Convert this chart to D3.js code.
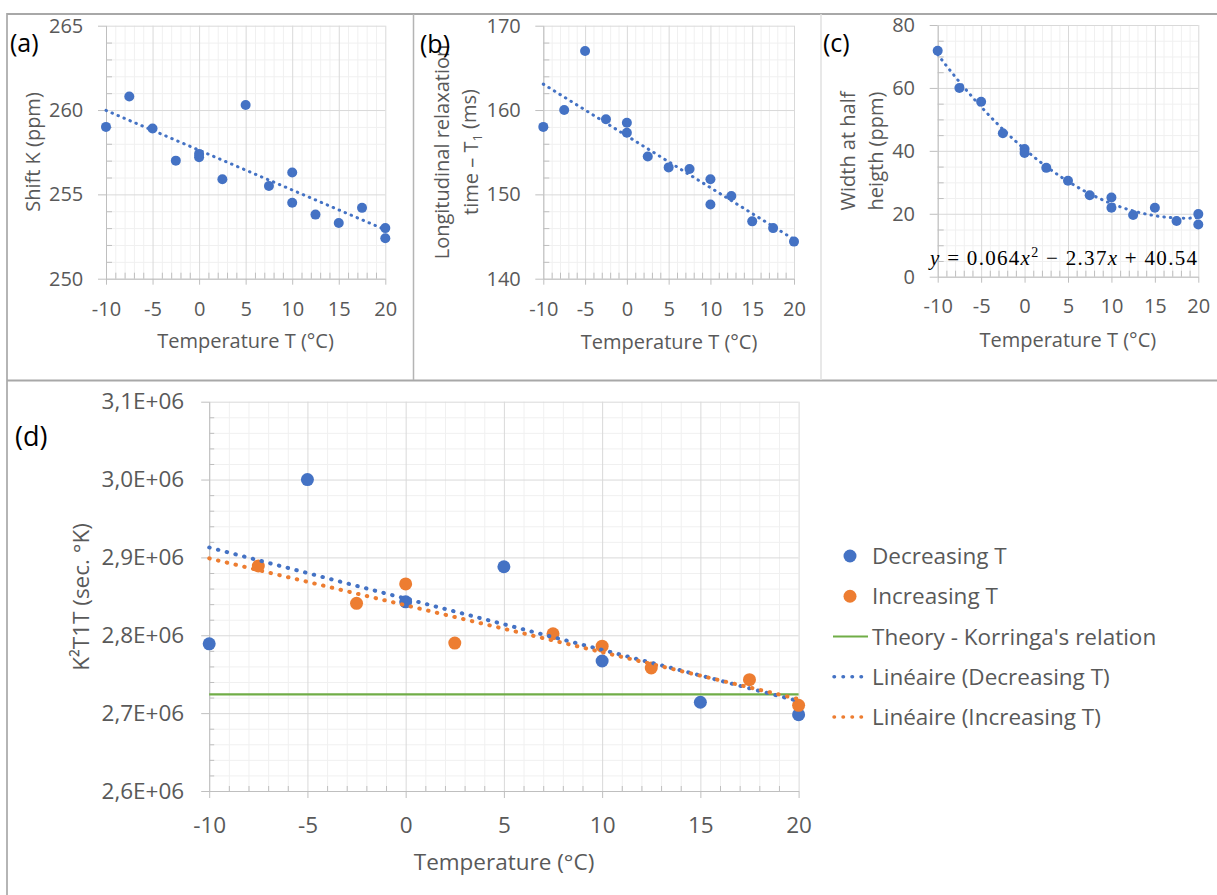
<!DOCTYPE html>
<html><head><meta charset="utf-8">
<script src="https://cdn.jsdelivr.net/npm/d3@7"></script>
<style>body{margin:0;background:#fff}svg{display:block}</style>
</head><body>
<svg id="c" width="1217" height="895"></svg>
<script>
// ---------- data ----------
const tempsA = [-10,-7.5,-5,-2.5,0,0,2.5,5,7.5,10,10,12.5,15,17.5,20,20];
const shiftK = [259.0,260.8,258.9,257.0,257.2,257.4,255.9,260.3,255.5,256.3,254.5,253.8,253.3,254.2,253.0,252.4];
const tempsB = [-10,-7.5,-5,-2.5,0,0,2.5,5,7.5,10,10,12.5,15,17.5,20];
const relaxT1 = [158.0,160.0,167.0,158.9,158.5,157.3,154.5,153.2,153.0,151.8,148.8,149.8,146.8,146.0,144.4];
const tempsC = [-10,-7.5,-5,-2.5,0,0,2.5,5,7.5,10,10,12.5,15,17.5,20,20];
const halfWidth = [71.8,60.0,55.6,45.6,40.6,39.3,34.6,30.5,25.9,25.2,21.9,19.6,21.9,17.7,19.9,16.6];
const widthFit = [0.064,-2.37,40.54]; // y = a x^2 + b x + c
const tempsDec = [-10,-5,0,5,10,15,20];
const k2t1tDec = [2.789e6,3.000e6,2.843e6,2.888e6,2.767e6,2.714e6,2.698e6];
const tempsInc = [-7.5,-2.5,0,2.5,7.5,10,12.5,17.5,20];
const k2t1tInc = [2.889e6,2.841e6,2.866e6,2.790e6,2.802e6,2.786e6,2.758e6,2.743e6,2.710e6];
const korringa = 2.724e6;
const xTicks = [-10,-5,0,5,10,15,20];
const yTicksA = [250,255,260,265];
const yTicksB = [140,150,160,170];
const yTicksC = [0,20,40,60,80];
const yTicksD = [2.6e6,2.7e6,2.8e6,2.9e6,3.0e6,3.1e6];
const legendLabels = ["Decreasing T","Increasing T","Theory - Korringa's relation","Linéaire (Decreasing T)","Linéaire (Increasing T)"];

// ---------- style ----------
const BLUE="#4472C4", ORANGE="#ED7D31", GREEN="#70AD47", TXT="#595959";
const FONT="'Open Sans', 'Noto Sans', sans-serif";
const svg = d3.select("#c");
svg.append("rect").attr("width",1217).attr("height",895).attr("fill","#fff");

function linfit(xs, ys){
  const mx=d3.mean(xs), my=d3.mean(ys); let sxy=0,sxx=0;
  xs.forEach((v,i)=>{sxy+=(v-mx)*(ys[i]-my); sxx+=(v-mx)*(v-mx);});
  const b=sxy/sxx; return v=>my+b*(v-mx);
}
function isMajor(v, step){ return Math.abs(Math.round(v/step)*step - v) < step*1e-6; }

function panel(o){
  const g = svg.append("g");
  const x = d3.scaleLinear().domain([-10,20]).range([o.l,o.r]);
  const y = d3.scaleLinear().domain([o.yt[0], o.yt[o.yt.length-1]]).range([o.b,o.t]);
  const H=o.b-o.t, W=o.r-o.l;
  const xMinor = d3.range(-10,20.0001,1).filter(v=>!isMajor(v,5));
  const yMinor = d3.range(o.yt[0], o.yt[o.yt.length-1]+o.ym*0.01, o.ym).filter(v=>!isMajor(v-o.yt[0], o.yt[1]-o.yt[0]));
  const clean = s => s.select(".domain").remove();
  // minor grid
  g.append("g").attr("transform",`translate(0,${o.b})`)
    .call(d3.axisBottom(x).tickValues(xMinor).tickSize(-H).tickFormat(""))
    .call(clean).call(s=>s.selectAll("line").attr("stroke","#f0f0f0"));
  g.append("g").attr("transform",`translate(${o.l},0)`)
    .call(d3.axisLeft(y).tickValues(yMinor).tickSize(-W).tickFormat(""))
    .call(clean).call(s=>s.selectAll("line").attr("stroke","#f0f0f0"));
  // major grid
  g.append("g").attr("transform",`translate(0,${o.b})`)
    .call(d3.axisBottom(x).tickValues(xTicks).tickSize(-H).tickFormat(""))
    .call(clean).call(s=>s.selectAll("line").attr("stroke","#d9d9d9"));
  g.append("g").attr("transform",`translate(${o.l},0)`)
    .call(d3.axisLeft(y).tickValues(o.yt).tickSize(-W).tickFormat(""))
    .call(clean).call(s=>s.selectAll("line").attr("stroke","#d9d9d9"));
  // minor tick marks (inside)
  g.append("g").attr("transform",`translate(0,${o.b})`)
    .call(d3.axisBottom(x).tickValues(xMinor).tickSize(-o.mt).tickFormat(""))
    .call(clean).call(s=>s.selectAll("line").attr("stroke","#bfbfbf"));
  g.append("g").attr("transform",`translate(${o.l},0)`)
    .call(d3.axisLeft(y).tickValues(yMinor).tickSize(-o.mt).tickFormat(""))
    .call(clean).call(s=>s.selectAll("line").attr("stroke","#bfbfbf"));
  // major axes with labels
  const xa = g.append("g").attr("transform",`translate(0,${o.b})`)
    .call(d3.axisBottom(x).tickValues(xTicks).tickSize(o.xts).tickSizeOuter(0).tickPadding(o.xp).tickFormat(d=>String(d)));
  const ya = g.append("g").attr("transform",`translate(${o.l},0)`)
    .call(d3.axisLeft(y).tickValues(o.yt).tickSize(8).tickSizeOuter(0).tickPadding(o.yp).tickFormat(o.fmt));
  [xa,ya].forEach(a=>{
    a.attr("font-family",FONT).attr("font-size",o.fs);
    a.select(".domain").attr("stroke","#bfbfbf");
    a.selectAll("line").attr("stroke","#bfbfbf");
    a.selectAll("text").attr("fill",TXT);
  });
  return {g,x,y};
}

function label(t, x, y, size, opts={}){
  const el = svg.append("text").attr("x",x).attr("y",y).attr("font-family",FONT)
    .attr("font-size",size).attr("fill",opts.fill||TXT).attr("text-anchor",opts.anchor||"middle").text(t);
  return el;
}
function vlabel(lines, cx, cy, size, gap){
  lines.forEach((t,i)=>{
    const el = svg.append("text").attr("transform",`translate(${cx[i]},${cy}) rotate(-90)`)
      .attr("font-family",FONT).attr("font-size",size).attr("fill",TXT)
      .attr("text-anchor","middle").attr("dy","0.35em");
    if (typeof t === "string") el.text(t); else t(el);
  });
}
function dots(g, x, y, xs, ys, r, color){
  g.append("g").selectAll("circle").data(xs.map((v,i)=>[v,ys[i]])).join("circle")
    .attr("cx",d=>x(d[0])).attr("cy",d=>y(d[1])).attr("r",r).attr("fill",color);
}
function trend(g, x, y, f, color, w, dash){
  const pts = d3.range(-10,20.0001,0.5).map(v=>[v,f(v)]);
  g.append("path").attr("d",d3.line().x(d=>x(d[0])).y(d=>y(d[1]))(pts))
    .attr("fill","none").attr("stroke",color).attr("stroke-width",w)
    .attr("stroke-dasharray",dash).attr("stroke-linecap","round");
}

// ---------- borders ----------
const bc="#a8a8a8";
svg.append("line").attr("x1",7).attr("x2",1217).attr("y1",14).attr("y2",14).attr("stroke",bc).attr("stroke-width",2);
svg.append("line").attr("x1",7).attr("x2",7).attr("y1",13).attr("y2",895).attr("stroke",bc).attr("stroke-width",1.7);
svg.append("line").attr("x1",7).attr("x2",1217).attr("y1",380.5).attr("y2",380.5).attr("stroke",bc).attr("stroke-width",2.2);
svg.append("line").attr("x1",413.5).attr("x2",413.5).attr("y1",14).attr("y2",380).attr("stroke","#b4b4b4").attr("stroke-width",1.5);
svg.append("line").attr("x1",821).attr("x2",821).attr("y1",14).attr("y2",380).attr("stroke","#e0e0e0").attr("stroke-width",1.5);

// ---------- panel (a) ----------
const fmtInt = d=>String(d);
const pa = panel({l:106,r:385.3,t:25.7,b:278.7,yt:yTicksA,ym:1,fmt:fmtInt,fs:20,xp:17.5,yp:14.7,xts:6,mt:6});
dots(pa.g,pa.x,pa.y,tempsA,shiftK,5,BLUE);
trend(pa.g,pa.x,pa.y,linfit(tempsA,shiftK),BLUE,3,"0.5,6");
label("Temperature T (°C)",245.5,348,20);
vlabel(["Shift K (ppm)"],[33],152,20);
label("(a)",10,52,25,{fill:"#000",anchor:"start"});

// ---------- panel (b) ----------
const pb = panel({l:543.3,r:794,t:25.7,b:278.7,yt:yTicksB,ym:2,fmt:fmtInt,fs:20,xp:17.5,yp:14.5,xts:6,mt:6});
dots(pb.g,pb.x,pb.y,tempsB,relaxT1,5,BLUE);
trend(pb.g,pb.x,pb.y,linfit(tempsB,relaxT1),BLUE,3,"0.5,6");
label("Temperature T (°C)",669,349,20);
vlabel(["Longitudinal relaxation", el=>{el.append("tspan").text("time – T");el.append("tspan").attr("font-size",13).attr("dy","0.3em").text("1");el.append("tspan").attr("dy","-0.3em").text(" (ms)");}],[442,471],152,20);
label("(b)",420,53,25,{fill:"#000",anchor:"start"});

// ---------- panel (c) ----------
const pc = panel({l:937.7,r:1198.3,t:25,b:276.7,yt:yTicksC,ym:5,fmt:fmtInt,fs:20,xp:16,yp:14.7,xts:6,mt:6});
dots(pc.g,pc.x,pc.y,tempsC,halfWidth,5,BLUE);
trend(pc.g,pc.x,pc.y,v=>widthFit[0]*v*v+widthFit[1]*v+widthFit[2],BLUE,3,"0.5,6");
label("Temperature T (°C)",1067.8,347,20);
vlabel(["Width at half","heigth (ppm)"],[848,876],151,20);
label("(c)",823,52,25,{fill:"#000",anchor:"start"});
{
  const eq = svg.append("text").attr("x",930).attr("y",265).attr("font-family","'Liberation Serif','DejaVu Serif',serif")
    .attr("font-size",21).attr("fill","#000");
  eq.append("tspan").attr("font-style","italic").text("y");
  eq.append("tspan").text(" = " + widthFit[0].toFixed(3));
  eq.append("tspan").attr("font-style","italic").text("x");
  eq.append("tspan").attr("font-size",14).attr("dy","-0.55em").text("2");
  eq.append("tspan").attr("dy","0.38em").text(" − " + Math.abs(widthFit[1]).toFixed(2));
  eq.append("tspan").attr("font-style","italic").text("x");
  eq.append("tspan").text(" + " + widthFit[2].toFixed(2));
  eq.attr("textLength",267).attr("lengthAdjust","spacing");
}

// ---------- panel (d) ----------
const fmtD = d=>(d/1e6).toFixed(1).replace(".",",")+"E+06";
const pd = panel({l:209.2,r:798.6,t:401.7,b:791,yt:yTicksD,ym:2e4,fmt:fmtD,fs:22.5,xp:19,yp:17,xts:7,mt:5});
dots(pd.g,pd.x,pd.y,tempsDec,k2t1tDec,6.5,BLUE);
dots(pd.g,pd.x,pd.y,tempsInc,k2t1tInc,6.5,ORANGE);
pd.g.append("line").attr("x1",pd.x(-10)).attr("x2",pd.x(20)).attr("y1",pd.y(korringa)).attr("y2",pd.y(korringa))
  .attr("stroke",GREEN).attr("stroke-width",2.2);
trend(pd.g,pd.x,pd.y,linfit(tempsDec,k2t1tDec),BLUE,4,"0.5,8.5");
trend(pd.g,pd.x,pd.y,linfit(tempsInc,k2t1tInc),ORANGE,4,"0.5,8.5");
label("Temperature (°C)",504,870,22.5);
vlabel([el=>{el.text("K²T1T (sec. °K)");}],[81],597,22.5);
label("(d)",15,446,27,{fill:"#000",anchor:"start"});

// ---------- legend ----------
const lg = svg.append("g");
const rowY = d3.scalePoint().domain(legendLabels).range([556,717]);
legendLabels.forEach((t,i)=>{
  const yy = rowY(t);
  if (i<2) lg.append("circle").attr("cx",850).attr("cy",yy).attr("r",6.5).attr("fill",i===0?BLUE:ORANGE);
  else if (i===2) lg.append("line").attr("x1",833).attr("x2",868).attr("y1",yy).attr("y2",yy).attr("stroke",GREEN).attr("stroke-width",2.2);
  else lg.append("line").attr("x1",834).attr("x2",864).attr("y1",yy).attr("y2",yy).attr("stroke",i===3?BLUE:ORANGE)
        .attr("stroke-width",3.5).attr("stroke-dasharray","0.5,8.5").attr("stroke-linecap","round");
  lg.append("text").attr("x",872).attr("y",yy+8).attr("font-family",FONT).attr("font-size",22.5).attr("fill",TXT).text(t);
});
</script>
</body></html>
